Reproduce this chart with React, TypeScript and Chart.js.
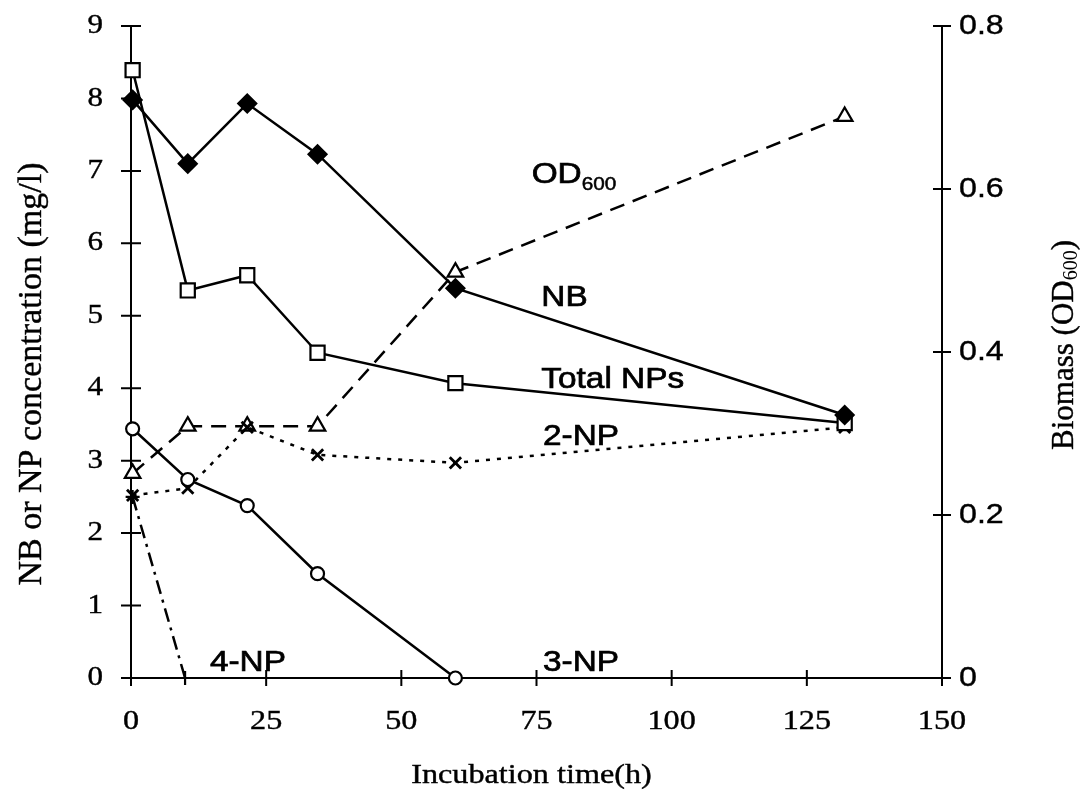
import React, { useEffect, useRef } from "react";
import { Chart, registerables } from "chart.js";

Chart.register(...registerables);

// ---- data ----
const TIME = [0.3, 10.5, 21.5, 34.5, 60, 132];
const NB = [7.98, 7.1, 7.93, 7.23, 5.38, 3.63];
const TOTAL_NPS = [8.39, 5.35, 5.56, 4.49, 4.07, 3.52];
const NP2 = [2.52, 2.62, 3.46, 3.08, 2.97, 3.46];
const NP3_TIME = [0.3, 10.5, 21.5, 34.5, 60];
const NP3 = [3.44, 2.74, 2.38, 1.44, 0];
const NP4_TIME = [0.3, 10];
const NP4 = [2.5, 0];
const OD600 = [0.251, 0.309, 0.309, 0.309, 0.498, 0.689];

const X_TICKS = [0, 25, 50, 75, 100, 125, 150];
const Y_LEFT_TICKS = [0, 1, 2, 3, 4, 5, 6, 7, 8, 9];
const Y_RIGHT_TICKS = [0, 0.2, 0.4, 0.6, 0.8];
const Y_RIGHT_TICK_LABELS = ["0", "0.2", "0.4", "0.6", "0.8"];

const X_TITLE = "Incubation time(h)";
const Y_LEFT_TITLE = "NB or NP concentration (mg/l)";
const Y_RIGHT_TITLE_MAIN = "Biomass (OD";
const Y_RIGHT_TITLE_SUB = "600";
const Y_RIGHT_TITLE_END = ")";

// in-plot series labels: [text, subscript, x (h), y (mg/l)]
const SERIES_LABELS: [string, string, number, number][] = [
  ["OD", "600", 74.1, 6.83],
  ["NB", "", 75.9, 5.14],
  ["Total NPs", "", 75.9, 4.0],
  ["2-NP", "", 76.2, 3.21],
  ["4-NP", "", 14.6, 0.1],
  ["3-NP", "", 76.2, 0.1],
];

const SERIF = "'Liberation Serif', 'Times New Roman', serif";
const SANS = "'Liberation Sans', Arial, sans-serif";
const SX = 1.15; // horizontal stretch of the scanned figure

function pts(xs: number[], ys: number[]) {
  return xs.map((x, i) => ({ x, y: ys[i] }));
}

function drawText(
  ctx: CanvasRenderingContext2D,
  text: string,
  x: number,
  y: number,
  align: CanvasTextAlign,
  baseline: CanvasTextBaseline,
  font: string,
  sx = SX,
  heavy = 0.4
) {
  ctx.save();
  ctx.translate(x, y);
  ctx.scale(sx, 1);
  ctx.font = font;
  ctx.textAlign = align;
  ctx.textBaseline = baseline;
  ctx.fillStyle = "#000";
  ctx.fillText(text, 0, 0);
  if (heavy > 0) {
    ctx.strokeStyle = "#000";
    ctx.lineWidth = heavy;
    ctx.strokeText(text, 0, 0);
  }
  ctx.restore();
}

const axesPlugin = {
  id: "sciAxes",
  beforeDraw(chart: any) {
    const ctx = chart.ctx as CanvasRenderingContext2D;
    ctx.save();
    ctx.fillStyle = "#fff";
    ctx.fillRect(0, 0, chart.width, chart.height);
    ctx.restore();
  },
  beforeDatasetsDraw(chart: any) {
    const ctx = chart.ctx as CanvasRenderingContext2D;
    const { left, right, top, bottom } = chart.chartArea;
    const xs = chart.scales.x;
    const yl = chart.scales.y;
    const yr = chart.scales.y1;
    ctx.save();
    ctx.strokeStyle = "#000";
    ctx.lineWidth = 2;
    ctx.beginPath();
    ctx.moveTo(left, top);
    ctx.lineTo(left, bottom);
    ctx.lineTo(right, bottom);
    ctx.moveTo(right, top);
    ctx.lineTo(right, bottom);
    // ticks crossing the axes
    Y_LEFT_TICKS.forEach((v) => {
      const y = yl.getPixelForValue(v);
      ctx.moveTo(left - 10, y);
      ctx.lineTo(left + 10, y);
    });
    Y_RIGHT_TICKS.forEach((v) => {
      const y = yr.getPixelForValue(v);
      ctx.moveTo(right - 9, y);
      ctx.lineTo(right + 9, y);
    });
    X_TICKS.forEach((v) => {
      const x = xs.getPixelForValue(v);
      ctx.moveTo(x, bottom - 8);
      ctx.lineTo(x, bottom + 8);
    });
    ctx.stroke();
    ctx.restore();
  },
  afterDraw(chart: any) {
    const ctx = chart.ctx as CanvasRenderingContext2D;
    const { left, right, bottom } = chart.chartArea;
    const xs = chart.scales.x;
    const yl = chart.scales.y;
    const yr = chart.scales.y1;
    Y_LEFT_TICKS.forEach((v) => {
      drawText(ctx, String(v), left - 28, yl.getPixelForValue(v), "right", "middle", `27px ${SERIF}`);
    });
    X_TICKS.forEach((v) => {
      drawText(ctx, String(v), xs.getPixelForValue(v), bottom + 44, "center", "middle", `28px ${SERIF}`);
    });
    Y_RIGHT_TICKS.forEach((v, i) => {
      drawText(ctx, Y_RIGHT_TICK_LABELS[i], right + 17, yr.getPixelForValue(v), "left", "middle", `28px ${SANS}`);
    });
    // axis titles
    drawText(ctx, X_TITLE, (left + right) / 2 - 5, 783, "center", "alphabetic", `28px ${SERIF}`);

    ctx.save();
    ctx.translate(32, 374);
    ctx.rotate(-Math.PI / 2);
    ctx.font = `34px ${SERIF}`;
    ctx.textAlign = "center";
    ctx.textBaseline = "middle";
    ctx.fillStyle = "#000";
    ctx.fillText(Y_LEFT_TITLE, 0, 0);
    ctx.strokeStyle = "#000";
    ctx.lineWidth = 0.4;
    ctx.strokeText(Y_LEFT_TITLE, 0, 0);
    ctx.restore();

    ctx.save();
    ctx.translate(1065, 345);
    ctx.rotate(-Math.PI / 2);
    ctx.fillStyle = "#000";
    ctx.strokeStyle = "#000";
    ctx.lineWidth = 0.4;
    ctx.textBaseline = "middle";
    ctx.textAlign = "left";
    const mainF = `31px ${SERIF}`;
    const subF = `20px ${SERIF}`;
    ctx.font = mainF;
    const w1 = ctx.measureText(Y_RIGHT_TITLE_MAIN).width;
    const w3 = ctx.measureText(Y_RIGHT_TITLE_END).width;
    ctx.font = subF;
    const w2 = ctx.measureText(Y_RIGHT_TITLE_SUB).width;
    const total = w1 + w2 + w3;
    let cx = -total / 2;
    ctx.font = mainF;
    ctx.fillText(Y_RIGHT_TITLE_MAIN, cx, 0);
    ctx.strokeText(Y_RIGHT_TITLE_MAIN, cx, 0);
    cx += w1;
    ctx.font = subF;
    ctx.fillText(Y_RIGHT_TITLE_SUB, cx, 7);
    cx += w2;
    ctx.font = mainF;
    ctx.fillText(Y_RIGHT_TITLE_END, cx, 0);
    ctx.strokeText(Y_RIGHT_TITLE_END, cx, 0);
    ctx.restore();

    // series labels
    SERIES_LABELS.forEach(([txt, sub, xv, yv]) => {
      const px = xs.getPixelForValue(xv);
      const py = yl.getPixelForValue(yv);
      const f = `29px ${SANS}`;
      drawText(ctx, txt, px, py, "left", "alphabetic", f, SX, 0.7);
      if (sub) {
        ctx.save();
        ctx.font = f;
        const w = ctx.measureText(txt).width * SX;
        ctx.restore();
        drawText(ctx, sub, px + w, py + 7, "left", "alphabetic", `18px ${SANS}`, SX, 0.5);
      }
    });
  },
};

export default function App() {
  const ref = useRef<HTMLCanvasElement>(null);
  useEffect(() => {
    if (!ref.current) return;
    const common = {
      borderColor: "#000",
      borderWidth: 2.5,
      pointBorderColor: "#000",
      pointBorderWidth: 2.2,
      pointBackgroundColor: "#fff",
      tension: 0,
      clip: false as any,
      fill: false,
    };
    const chart = new Chart(ref.current, {
      type: "line",
      data: {
        datasets: [
          {
            ...common,
            label: "NB",
            data: pts(TIME, NB),
            yAxisID: "y",
            pointStyle: "rectRot",
            pointRadius: 9,
            pointBackgroundColor: "#000",
          },
          {
            ...common,
            label: "Total NPs",
            data: pts(TIME, TOTAL_NPS),
            yAxisID: "y",
            pointStyle: "rect",
            pointRadius: 10,
          },
          {
            ...common,
            label: "3-NP",
            data: pts(NP3_TIME, NP3),
            yAxisID: "y",
            pointStyle: "circle",
            pointRadius: 6.5,
          },
          {
            ...common,
            label: "2-NP",
            data: pts(TIME, NP2),
            yAxisID: "y",
            borderDash: [4, 7],
            borderWidth: 2.5,
            pointStyle: "crossRot",
            pointRadius: 8,
            pointBorderWidth: 2.8,
          },
          {
            ...common,
            label: "4-NP",
            data: pts(NP4_TIME, NP4),
            yAxisID: "y",
            borderDash: [14, 6, 3, 6],
            pointStyle: "cross",
            pointRadius: 7,
          },
          {
            ...common,
            label: "OD600",
            data: pts(TIME, OD600),
            yAxisID: "y1",
            borderDash: [15, 9],
            pointStyle: "triangle",
            pointRadius: 9,
          },
        ],
      },
      options: {
        animation: false,
        responsive: false,
        devicePixelRatio: 1,
        layout: { padding: { top: 26, left: 0, right: 0, bottom: 0 } },
        plugins: {
          legend: { display: false },
          tooltip: { enabled: false },
        },
        scales: {
          x: {
            type: "linear",
            min: 0,
            max: 150,
            ticks: { display: false },
            grid: { display: false },
            border: { display: false },
            afterFit: (s: any) => {
              s.height = 121;
            },
          },
          y: {
            type: "linear",
            position: "left",
            min: 0,
            max: 9,
            ticks: { display: false },
            grid: { display: false },
            border: { display: false },
            afterFit: (s: any) => {
              s.width = 131;
            },
          },
          y1: {
            type: "linear",
            position: "right",
            min: 0,
            max: 0.8,
            ticks: { display: false },
            grid: { display: false },
            border: { display: false },
            afterFit: (s: any) => {
              s.width = 138;
            },
          },
        },
      } as any,
      plugins: [axesPlugin],
    });
    return () => chart.destroy();
  }, []);
  return (
    <div style={{ position: "fixed", left: 0, top: 0, width: 1080, height: 799, background: "#fff" }}>
      <canvas ref={ref} width={1080} height={799} style={{ width: 1080, height: 799, display: "block" }} />
    </div>
  );
}
